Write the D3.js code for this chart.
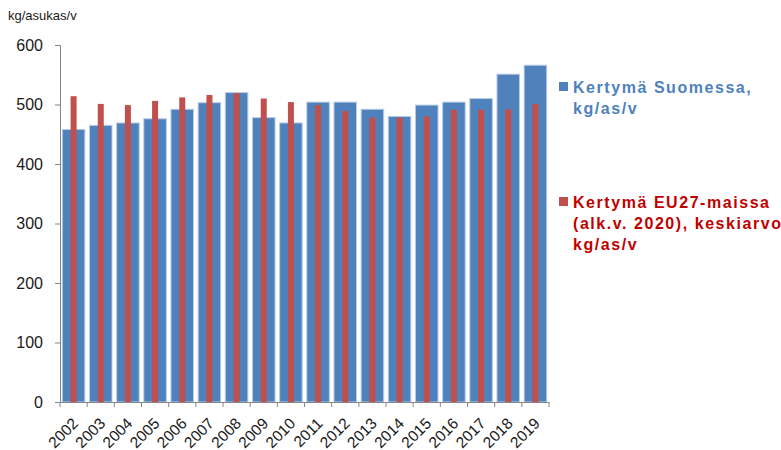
<!DOCTYPE html>
<html lang="fi">
<head>
  <meta charset="UTF-8">
  <title>Kertymä kg/asukas/v</title>
  <script src="https://d3js.org/d3.v7.min.js"></script>
  <style>
    body { margin: 0; background: #fff; font-family: Arial, "Liberation Sans", sans-serif; }
    svg { display: block; }
  </style>
</head>
<body>
  <svg id="chart" width="781" height="450"></svg>
  <script>
    // data
    const years = ["2002","2003","2004","2005","2006","2007","2008","2009","2010",
                   "2011","2012","2013","2014","2015","2016","2017","2018","2019"];
    const suomi = [458, 465, 469, 476, 492, 503, 520, 478, 469,
                   504, 504, 492, 480, 499, 504, 510, 551, 566];
    const eu27 = [514, 501, 499, 506, 512, 516, 519, 510, 504,
                  499, 489, 478, 478, 480, 491, 491, 492, 501];
    const yTicks = [0, 100, 200, 300, 400, 500, 600];

    const svg = d3.select("#chart");
    const plot = { left: 60, right: 549, top: 45, bottom: 402 };

    const x = d3.scaleBand().domain(years).range([plot.left, plot.right]).paddingInner(0.17).paddingOuter(0.085);
    const xTick = d3.scaleBand().domain(years).range([plot.left, plot.right]);
    const y = d3.scaleLinear().domain([0, 600]).range([plot.bottom, plot.top]);

    // blue bars
    svg.append("g").selectAll("rect")
      .data(years)
      .join("rect")
      .attr("x", d => x(d))
      .attr("y", (d, i) => y(suomi[i]))
      .attr("width", x.bandwidth())
      .attr("height", (d, i) => y(0) - y(suomi[i]))
      .attr("fill", "#4f81bd")
      .attr("stroke", "#b9cde5")
      .attr("stroke-width", 1);

    // red bars, narrow, centred
    const rw = 6;
    svg.append("g").selectAll("rect")
      .data(years)
      .join("rect")
      .attr("x", d => xTick(d) + xTick.bandwidth() / 2 - rw / 2)
      .attr("y", (d, i) => y(eu27[i]))
      .attr("width", rw)
      .attr("height", (d, i) => y(0) - y(eu27[i]))
      .attr("fill", "#c0504d");

    // y axis
    const yAxis = svg.append("g")
      .attr("transform", `translate(${plot.left},0)`)
      .call(d3.axisLeft(y).tickValues(yTicks).tickSize(5).tickPadding(12));
    yAxis.select(".domain").attr("stroke", "#868686");
    yAxis.selectAll(".tick line").attr("stroke", "#868686");
    yAxis.selectAll("text").attr("font-size", 16).attr("fill", "#1a1a1a").attr("font-family", "Arial, 'Liberation Sans'");

    // x axis
    const xAxis = svg.append("g")
      .attr("transform", `translate(0,${plot.bottom})`)
      .call(d3.axisBottom(xTick).tickSize(0).tickPadding(8));
    xAxis.select(".domain").attr("stroke", "#868686");
    xAxis.selectAll("text")
      .attr("font-size", 15.5)
      .attr("fill", "#1a1a1a")
      .attr("font-family", "Arial, 'Liberation Sans'")
      .attr("text-anchor", "end")
      .attr("dy", "0.35em")
      .attr("transform", "translate(-4,13) rotate(-45)");
    // ticks at category boundaries
    xAxis.append("g").selectAll("line")
      .data(years.concat(["end"]))
      .join("line")
      .attr("x1", (d, i) => plot.left + i * xTick.step())
      .attr("x2", (d, i) => plot.left + i * xTick.step())
      .attr("y1", 0).attr("y2", 5)
      .attr("stroke", "#868686");

    // unit label
    svg.append("text")
      .attr("x", 8).attr("y", 20)
      .attr("font-size", 13)
      .attr("fill", "#1a1a1a")
      .text("kg/asukas/v");

    // legend
    const legend = [
      { color: "#4f81bd", text: "#4f81bd", lines: ["Kertymä Suomessa,", "kg/as/v"], y: 93 },
      { color: "#c0504d", text: "#c00000", lines: ["Kertymä EU27-maissa", "(alk.v. 2020), keskiarvo", "kg/as/v"], y: 208 }
    ];
    legend.forEach(l => {
      svg.append("rect")
        .attr("x", 559).attr("y", l.y - 11)
        .attr("width", 9).attr("height", 9)
        .attr("fill", l.color);
      const t = svg.append("text")
        .attr("x", 573).attr("y", l.y)
        .attr("font-size", 16)
        .attr("font-weight", "bold")
        .attr("letter-spacing", 1.55)
        .attr("fill", l.text);
      l.lines.forEach((s, i) => {
        t.append("tspan").attr("x", 573).attr("dy", i === 0 ? 0 : 21).text(s);
      });
    });
  </script>
</body>
</html>
